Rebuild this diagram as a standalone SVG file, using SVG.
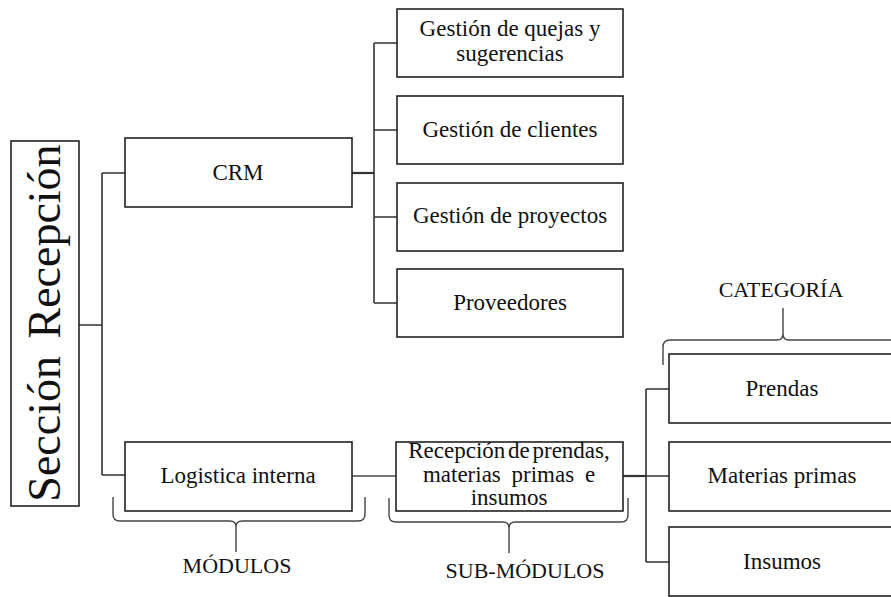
<svg xmlns="http://www.w3.org/2000/svg" width="891" height="597" viewBox="0 0 891 597">
<style>
.box{fill:#fff;stroke:#222;stroke-width:1.6}
.t{font-family:"Liberation Serif","Times New Roman",serif;font-size:23px;fill:#111;text-anchor:middle}
.c{fill:none;stroke:#333;stroke-width:1.6}
.br{fill:none;stroke:#444;stroke-width:1.4}
</style>
<rect width="891" height="597" fill="#fff"/>
<g id="connectors">
<path class="c" d="M79,325 H102 M102,173 V475 M102,173 H125 M102,475 H125"/>
<path class="c" d="M352,173 H374" style="stroke-width:2.2"/>
<path class="c" d="M374,43 V303 M374,43 H397 M374,130 H397 M374,217 H397 M374,303 H397"/>
<path class="c" d="M352,476 H396" style="stroke:#777;stroke-width:2.2"/>
<path class="c" d="M623,476 H646" style="stroke-width:2.2"/>
<path class="c" d="M646,389 V562 M646,389 H669 M646,476 H669 M646,562 H669"/>
</g>
<g id="seccion">
<rect class="box" x="11" y="141" width="68" height="365"/>
<text class="t" transform="translate(60,323) rotate(-90)" style="font-size:46px;word-spacing:6px">Sección Recepción</text>
</g>
<g id="crm">
<rect class="box" x="125" y="138" width="227" height="69"/>
<text class="t" x="238" y="180">CRM</text>
</g>
<g id="logistica">
<rect class="box" x="125" y="442" width="227" height="69"/>
<text class="t" x="238" y="483">Logistica interna</text>
</g>
<g id="quejas">
<rect class="box" x="397" y="9" width="226" height="68"/>
<text class="t" x="510" y="36">Gestión de quejas y</text>
<text class="t" x="510" y="61">sugerencias</text>
</g>
<g id="clientes">
<rect class="box" x="397" y="96" width="226" height="68"/>
<text class="t" x="510" y="137">Gestión de clientes</text>
</g>
<g id="proyectos">
<rect class="box" x="397" y="183" width="226" height="68"/>
<text class="t" x="510" y="223">Gestión de proyectos</text>
</g>
<g id="proveedores">
<rect class="box" x="397" y="269" width="226" height="68"/>
<text class="t" x="510" y="310">Proveedores</text>
</g>
<g id="recepcion">
<rect class="box" x="396" y="442" width="227" height="69"/>
<text class="t" x="509" y="458" style="word-spacing:-3px">Recepción de prendas,</text>
<text class="t" x="509" y="482" style="word-spacing:5px">materias primas e</text>
<text class="t" x="509" y="505">insumos</text>
</g>
<g id="prendas">
<rect class="box" x="669" y="354" width="240" height="69"/>
<text class="t" x="782" y="396">Prendas</text>
</g>
<g id="materias">
<rect class="box" x="669" y="442" width="240" height="69"/>
<text class="t" x="782" y="483">Materias primas</text>
</g>
<g id="insumos">
<rect class="box" x="669" y="527" width="240" height="69"/>
<text class="t" x="782" y="569">Insumos</text>
</g>
<g id="modulos">
<path class="br" d="M113,497 V514 Q113,521 120,521 H230 Q236,521 236,527 V552 M236,527 Q236,521 242,521 H358 Q365,521 365,514 V497"/>
<text class="t" x="237" y="573" style="font-size:22px">MÓDULOS</text>
</g>
<g id="submodulos">
<path class="br" d="M389,498 V515 Q389,522 396,522 H503 Q509,522 509,528 V553 M509,528 Q509,522 515,522 H621 Q628,522 628,515 V498"/>
<text class="t" x="525" y="578" style="font-size:22px">SUB-MÓDULOS</text>
</g>
<g id="categoria">
<path class="br" d="M663,365 V347 Q663,340 670,340 H777 Q783,340 783,334 V308 M783,334 Q783,340 789,340 H895"/>
<text class="t" x="781" y="297" style="font-size:22px">CATEGORÍA</text>
</g>
</svg>
